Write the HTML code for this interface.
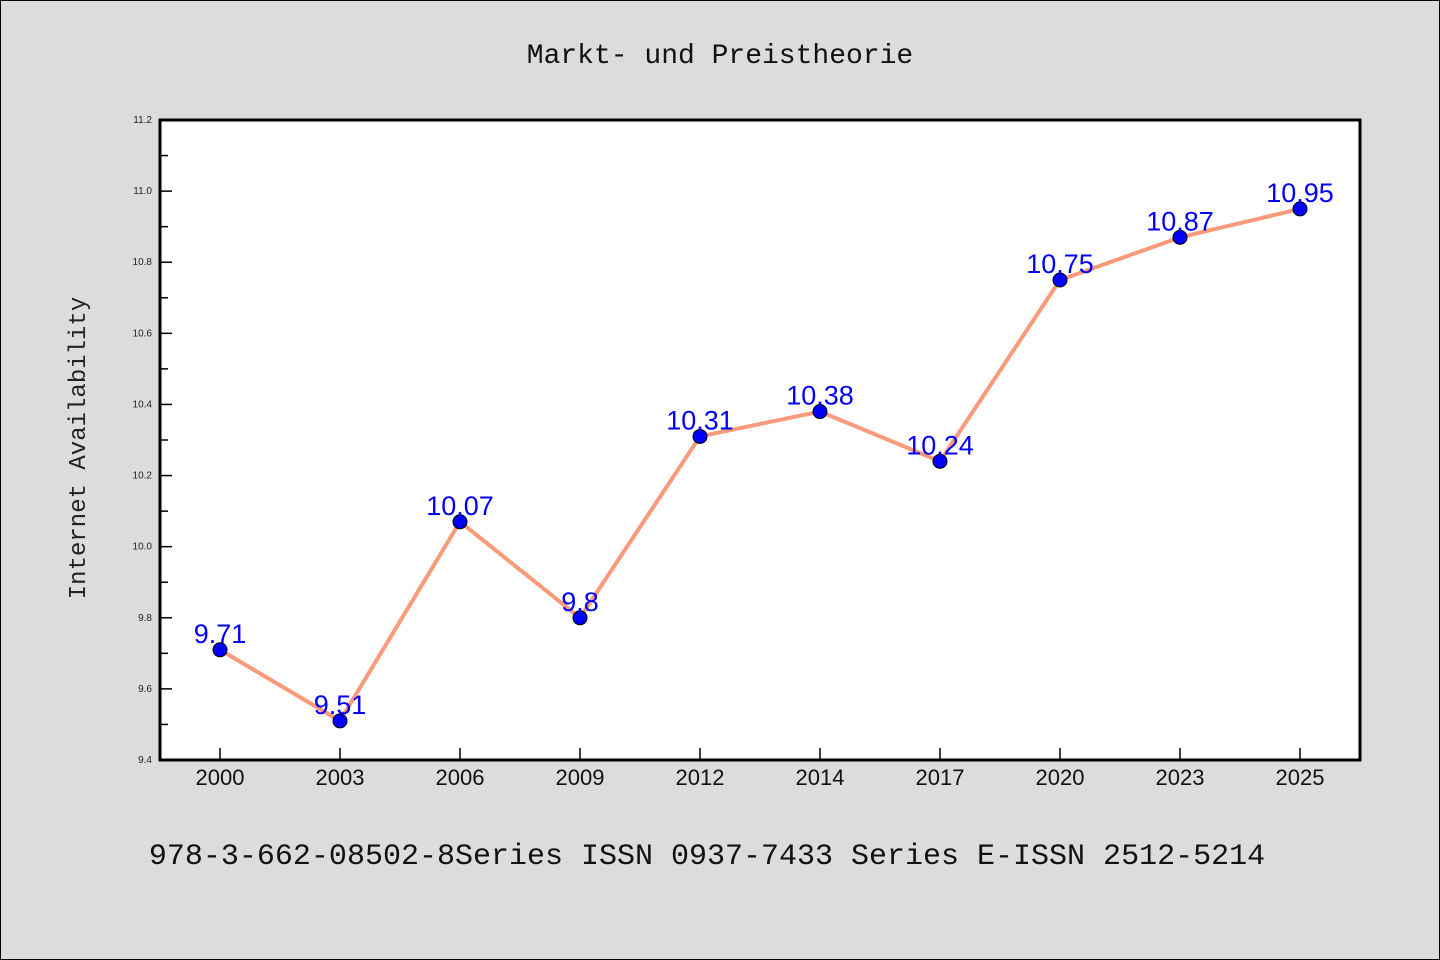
<!DOCTYPE html>
<html><head><meta charset="utf-8"><style>
body{margin:0;background:#dcdcdc;}
svg{display:block;}
</style></head><body>
<svg id="chart" width="1440" height="960" xmlns="http://www.w3.org/2000/svg">
<rect x="0.5" y="0.5" width="1439" height="959" fill="#dcdcdc" stroke="#000" stroke-width="1"/>
<text x="720" y="63" text-anchor="middle" font-family="'WenQuanYi Zen Hei','Liberation Mono',monospace" font-size="28" fill="#111">Markt- und Preistheorie</text>
<rect x="160" y="120" width="1200" height="640" fill="#fff"/>
<g id="axes"></g>
<g id="series"></g>
<rect x="160" y="120" width="1200" height="640" fill="none" stroke="#000" stroke-width="3"/>
<text transform="translate(85,448) rotate(-90)" text-anchor="middle" font-family="'WenQuanYi Zen Hei','Liberation Mono',monospace" font-size="24" fill="#222">Internet Availability</text>
<text x="707" y="864" text-anchor="middle" font-family="'WenQuanYi Zen Hei','Liberation Mono',monospace" font-size="30" fill="#111">978-3-662-08502-8Series ISSN 0937-7433 Series E-ISSN 2512-5214</text>
</svg>
<script>
const categories=["2000","2003","2006","2009","2012","2014","2017","2020","2023","2025"];
const values=[9.71,9.51,10.07,9.8,10.31,10.38,10.24,10.75,10.87,10.95];
const yTicks=[9.4,9.6,9.8,10.0,10.2,10.4,10.6,10.8,11.0,11.2];
const NS="http://www.w3.org/2000/svg";
const L=160,R=1360,T=120,B=760,yMin=9.4,yMax=11.2;
const x=i=>220+i*(R-L-120)/(categories.length-1);
const y=v=>B-(v-yMin)/(yMax-yMin)*(B-T);
function mk(tag,attrs,parent){const e=document.createElementNS(NS,tag);for(const k in attrs)e.setAttribute(k,attrs[k]);parent.appendChild(e);return e;}
const axes=document.getElementById('axes'),ser=document.getElementById('series');
yTicks.forEach((t,i)=>{
  const ln=mk('line',{x1:L,x2:L+12,y1:y(t),y2:y(t),stroke:'#000','stroke-width':1.5},axes);
  
  
  const tx=mk('text',{x:152,y:y(t)+3,'text-anchor':'end','font-family':'Liberation Sans, sans-serif','font-size':10,fill:'#222'},axes);
  tx.textContent=t.toFixed(1);
  
  
  if(i<yTicks.length-1){const m=y(t+0.1);
    const mn=mk('line',{x1:L,x2:L+8,y1:m,y2:m,stroke:'#000','stroke-width':1.5},axes);
    
    }
});
categories.forEach((c,i)=>{
  const ln=mk('line',{x1:x(i),x2:x(i),y1:B,y2:B-12,stroke:'#000','stroke-width':1.5},axes);
  
  
  const tx=mk('text',{x:x(i),y:785,'text-anchor':'middle','font-family':'Liberation Sans, sans-serif','font-size':22,fill:'#111'},axes);
  tx.textContent=c;
  
  
});
const pl=mk('polyline',{points:values.map((v,i)=>x(i)+','+y(v)).join(' '),fill:'none',stroke:'#fa9a78','stroke-width':4,'stroke-linejoin':'round'},ser);


values.forEach((v,i)=>{
  const c=mk('circle',{cx:x(i),cy:y(v),r:7,fill:'#0000ff',stroke:'#000','stroke-width':1},ser);
  
  
  const t=mk('text',{x:x(i),y:y(v)-7,'text-anchor':'middle','font-family':'Liberation Sans, sans-serif','font-size':27,fill:'#0000ff'},ser);
  t.textContent=String(v);
  
  
});
</script>
</body></html>
